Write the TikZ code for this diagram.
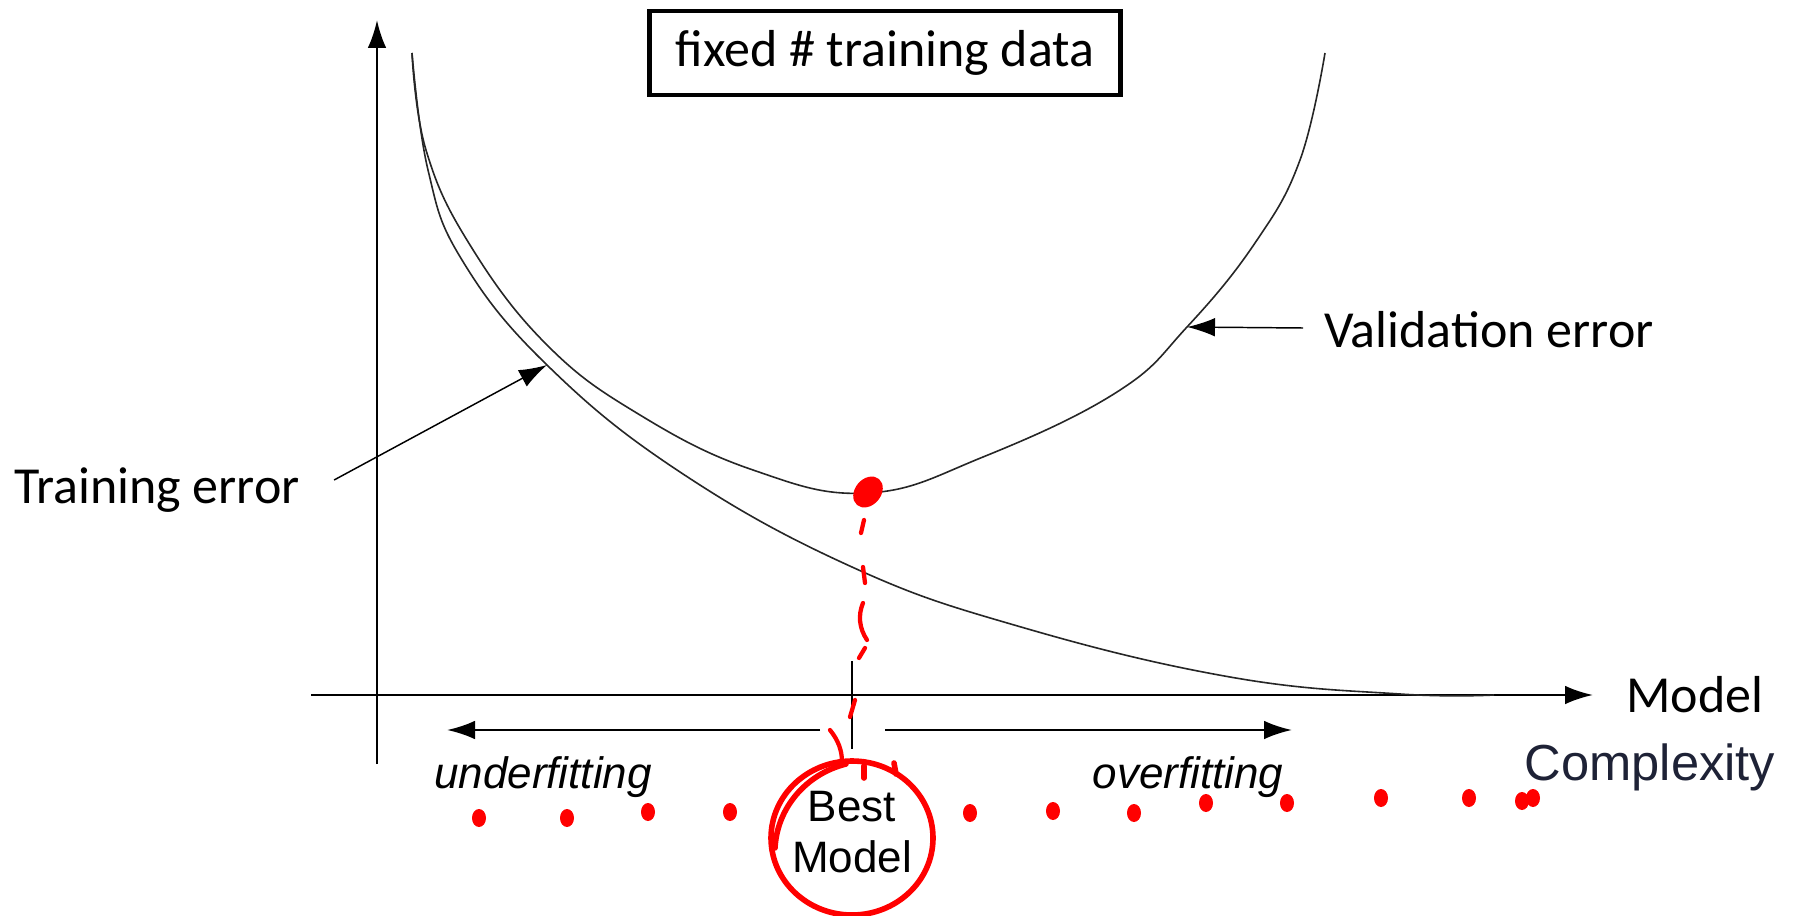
\documentclass[tikz,border=0pt]{standalone}
\usepackage{fontspec}
\usepackage{tikz}
\usetikzlibrary{arrows.meta}
\newfontfamily\calibri{Carlito}
\newfontfamily\arial{Liberation Sans}
\definecolor{penred}{RGB}{255,0,0}
\definecolor{inkblue}{RGB}{30,34,54}

\begin{document}
\begin{tikzpicture}[x=0.75pt,y=0.75pt,yscale=-1,xscale=1,
    >={Latex[length=21pt,width=14pt]},
    curve/.style={line width=1.2pt, black!85},
    axis/.style={line width=1.9pt, ->},
    pointer/.style={line width=1.1pt, ->},
    redpen/.style={draw=penred, line width=4.2pt, line cap=round, line join=round},
    reddash/.style={draw=penred, line width=3.2pt, line cap=round},
    redspot/.style={fill=penred, draw=none}]
    \useasboundingbox (0,0) rectangle (1793,916);

    %Axes
    \coordinate (ybot) at (377,764);
    \coordinate (ytop) at (377,20);
    \coordinate (xleft) at (311,695);
    \coordinate (xright) at (1593,695);
    \draw [axis] (ybot) -- (ytop);
    \draw [axis] (xleft) -- (xright);

    %Curve: training error
    \draw [curve] plot [smooth, tension=0.7] coordinates {(412,53) (428,170) (462,260) (547,365) (680,472) (852,567) (1021,627) (1230,677) (1400,694) (1494,695)};
    %Curve: validation error
    \draw [curve] plot [smooth, tension=0.7] coordinates {(412,53) (426,150) (470,245) (547,345) (640,415) (753,470) (868,493) (983,457) (1117,392) (1187,327) (1255,243) (1300,160) (1325,53)};

    % Text Node
    \draw (885,53) node [draw, line width=3.4pt, minimum width=353pt, minimum height=63pt, inner sep=0pt] [font=\calibri\fontsize{39}{47}\selectfont] (titlebox) {fixed \# training data};
    % Text Node
    \draw (157,490) node [inner sep=0.75pt] [font=\calibri\fontsize{39}{47}\selectfont] (trainlbl) {Training error};
    % Text Node
    \draw (1323,330) node [anchor=west] [inner sep=0.75pt] [font=\calibri\fontsize{39}{47}\selectfont] (vallbl) {Validation error};
    % Text Node
    \draw (1625,695) node [anchor=west] [inner sep=0.75pt] [font=\calibri\fontsize{39}{47}\selectfont] (modellbl) {Model};
    % Text Node
    \draw (1650,767) node [inner sep=0.75pt] [font=\arial\fontsize{38}{46}\selectfont, text=inkblue] (cplxlbl) {Complexity};
    % Text Node
    \draw (543,777) node [inner sep=0.75pt] [font=\arial\itshape\fontsize{33}{38}\selectfont] (underlbl) {underfitting};
    % Text Node
    \draw (1188,777) node [inner sep=0.75pt] [font=\arial\itshape\fontsize{33}{38}\selectfont] (overlbl) {overfitting};
    % Text Node
    \draw (852,832) node [align=center] [inner sep=0.75pt] [font=\arial\fontsize{33}{38}\selectfont] (bestlbl) {Best\\Model};

    %Pointers to the curves
    \coordinate (trainpt) at (547,365);
    \coordinate (valpt) at (1187,327);
    \draw [pointer] (trainlbl.east) ++(33,-10) -- (trainpt);
    \draw [pointer] (vallbl.west) ++(-20,-2) -- (valpt);

    %Best model tick and directions
    \coordinate (ticktop) at (852,661);
    \coordinate (tickbot) at (852,749);
    \draw [line width=1.5pt] (ticktop) -- (tickbot);
    \coordinate (underend) at (447,730);
    \coordinate (overend) at (1292,730);
    \draw [axis] (820,730) -- (underend);
    \draw [axis] (885,730) -- (overend);

    %Red marks
    \fill [redspot, rotate around={-50:(868,492)}] (868,492) ellipse [x radius=17, y radius=13];
    \draw [reddash] (864,520) -- (861,533);
    \draw [reddash] (863,567) -- (865,583);
    \draw [reddash] (863,603) .. controls (858,615) and (859,628) .. (867,640);
    \draw [reddash] (865,648) -- (859,658);
    \draw [reddash] (855,700) -- (850,717);
    \draw [reddash] (830,730) .. controls (838,740) and (842,750) .. (842,762);
    \draw [redpen] (bestlbl.center) ++(0,6) ellipse [x radius=81, y radius=77];
    \draw [redpen] (846,764) .. controls (806,774) and (777,808) .. (775,848);
    \draw [redpen] (864,766) -- (864,778);
    \draw [redpen] (894,763) -- (896,774);
    \foreach \px/\py in {479/818, 567/818, 648/812, 730/812, 970/813, 1053/811, 1134/813, 1206/803, 1287/803, 1381/798, 1469/798, 1522/801, 1533/798}
        \fill [redspot] (\px,\py) ellipse [x radius=7, y radius=9];

\end{tikzpicture}
\end{document}
